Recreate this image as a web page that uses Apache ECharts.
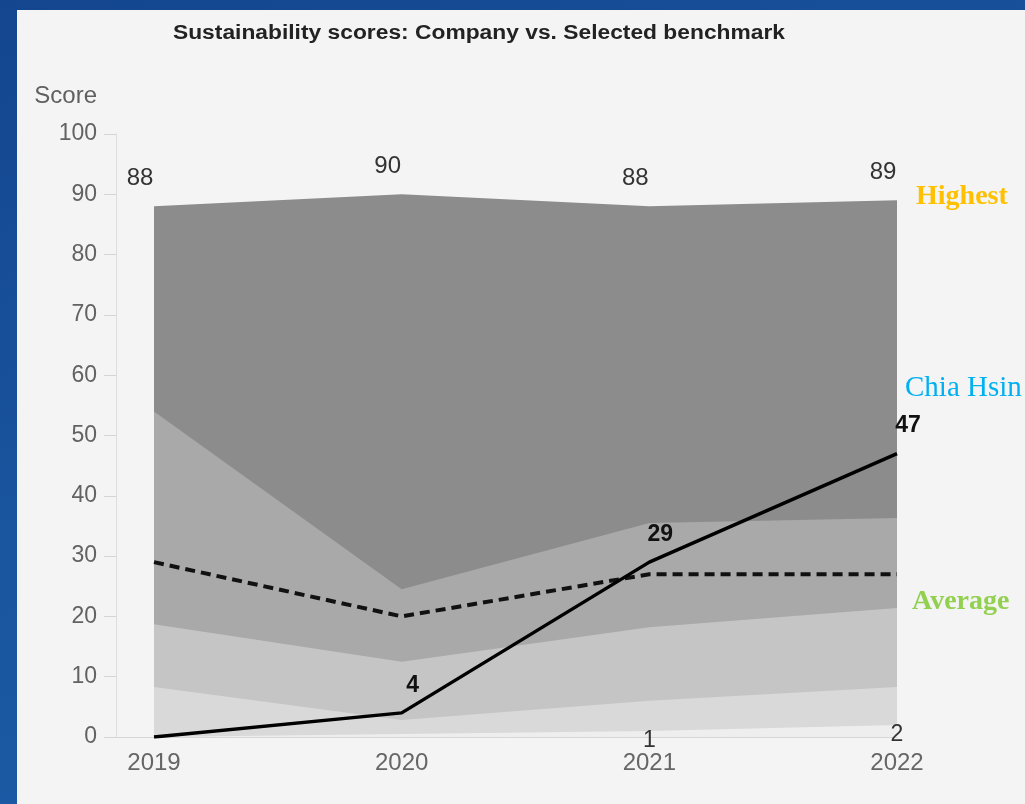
<!DOCTYPE html>
<html>
<head>
<meta charset="utf-8">
<script src="https://cdn.jsdelivr.net/npm/echarts@6/dist/echarts.min.js"></script>
<style>
  html, body { margin: 0; padding: 0; width: 1025px; height: 804px; overflow: hidden; }
  body { background: linear-gradient(160deg, #13468e 0%, #1a56a0 50%, #1c5fa8 100%); position: relative; }
  #panel { position: absolute; left: 17px; top: 10px; width: 1008px; height: 794px; background: #f4f4f4; }
  #chart { position: absolute; left: 0; top: 0; width: 1025px; height: 804px; }
</style>
</head>
<body>
<div id="panel"></div>
<div id="chart"></div>
<script>
// ---- data ----
const years = [2019, 2020, 2021, 2022];
const highest = [88, 90, 88, 89];
const upperBand = [54, 24.5, 35.5, 36.3];
const midBand = [18.7, 12.5, 18.2, 21.4];
const lowerBand = [8.3, 2.8, 6, 8.3];
const lowest = [0, 0.5, 1, 2];
const average = [29, 20, 27, 27];
const company = [0, 4, 29, 47];
const lowestLabelYears = [2021, 2022];
const companyLabelYears = [2020, 2021, 2022];

const titleText = 'Sustainability scores: Company vs. Selected benchmark';
const yName = 'Score';

const pairs = arr => years.map((y, i) => [y, arr[i]]);

function bandSeries(name, arr, color, label) {
  return {
    name: name, type: 'line', data: pairs(arr),
    symbol: 'circle', symbolSize: 0, showSymbol: true,
    itemStyle: { color: color },
    lineStyle: { width: 0 }, areaStyle: { color: color, opacity: 1 },
    label: label || { show: false }, silent: true, animation: false
  };
}

const chart = echarts.init(document.getElementById('chart'), null, { renderer: 'canvas' });
chart.setOption({
  backgroundColor: 'transparent',
  animation: false,
  grid: { left: 116, right: 128, top: 134, bottom: 67 },
  xAxis: {
    type: 'value', min: 2019 - 38 / 247.67, max: 2022,
    axisLine: { show: true, lineStyle: { color: '#d6d6d6', width: 1 } },
    axisTick: { show: false },
    splitLine: { show: false },
    axisLabel: {
      customValues: years, margin: 14,
      fontFamily: 'Liberation Sans', fontSize: 24, color: '#666',
      formatter: v => String(v)
    }
  },
  yAxis: {
    type: 'value', min: 0, max: 100, interval: 10,
    axisLine: { show: true, lineStyle: { color: '#dcdcdc', width: 1 } },
    axisTick: { show: true, length: 12, lineStyle: { color: '#d4d4d4' } },
    splitLine: { show: false },
    axisLabel: { margin: 19, fontFamily: 'Liberation Sans', fontSize: 23, color: '#626262' }
  },
  graphic: [
    { type: 'text', x: 479, y: 33, scaleX: 1.14, style: { text: titleText, font: 'bold 20px "Liberation Sans"', fill: '#222', textAlign: 'center', textVerticalAlign: 'middle' } },
    { type: 'text', x: 97, y: 96, style: { text: yName, font: '24px "Liberation Sans"', fill: '#5f5f5f', textAlign: 'right', textVerticalAlign: 'middle' } },
    { type: 'text', x: 916, y: 197, style: { text: 'Highest', font: 'bold 28px "Liberation Serif"', fill: '#FFC000', textVerticalAlign: 'middle' } },
    { type: 'text', x: 905, y: 388, style: { text: 'Chia Hsin', font: '29px "Liberation Serif"', fill: '#00B0F0', textVerticalAlign: 'middle' } },
    { type: 'text', x: 912, y: 602, style: { text: 'Average', font: 'bold 28px "Liberation Serif"', fill: '#92D050', textVerticalAlign: 'middle' } }
  ],
  series: [
    bandSeries('Highest', highest, '#8c8c8c', {
      show: true, position: 'top', distance: 16, offset: [-14, 0],
      fontFamily: 'Liberation Sans', fontSize: 24, color: '#333',
      formatter: p => String(p.value[1])
    }),
    bandSeries('Upper', upperBand, '#a9a9a9'),
    bandSeries('Mid', midBand, '#c5c5c5'),
    bandSeries('Lower', lowerBand, '#d9d9d9'),
    bandSeries('Lowest', lowest, '#eeeeee', {
      show: true, position: 'bottom', distance: -2,
      fontFamily: 'Liberation Sans', fontSize: 23, color: '#333',
      formatter: p => lowestLabelYears.includes(p.value[0]) ? String(p.value[1]) : ''
    }),
    {
      name: 'Average', type: 'line', data: pairs(average), symbol: 'none',
      lineStyle: { color: '#111', width: 4, type: [10, 6] }, z: 5, silent: true
    },
    {
      name: 'Chia Hsin', type: 'line', data: pairs(company),
      symbol: 'circle', symbolSize: 0, showSymbol: true, itemStyle: { color: '#000' },
      lineStyle: { color: '#000', width: 3.5 }, z: 6, silent: true,
      label: {
        show: true, position: 'top', distance: 16, offset: [11, 0],
        fontFamily: 'Liberation Sans', fontWeight: 'bold', fontSize: 23, color: '#111',
        formatter: p => companyLabelYears.includes(p.value[0]) ? String(p.value[1]) : ''
      }
    }
  ]
});
</script>
</body>
</html>
